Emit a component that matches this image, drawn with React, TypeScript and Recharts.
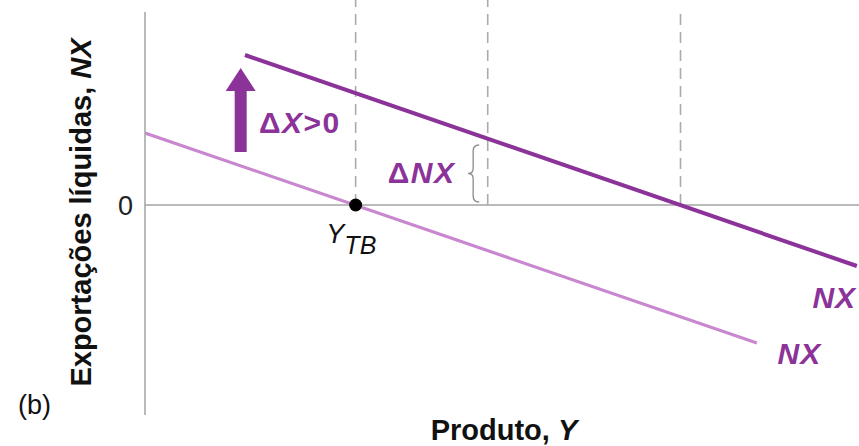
import React from 'react';
import { ComposedChart, Line, XAxis, YAxis, ReferenceLine, ReferenceDot, Label } from 'recharts';

const DARK = '#8b3399';
const LIGHT = '#c887cf';
const GRAY = '#a3a3a3';
const FONT = '"Liberation Sans", Arial, Helvetica, sans-serif';

// x = output Y (0..100), nx = net exports (pixel-like units, 0 = balance)
const nxInitial = [
  { y: 0, nx: 72 },
  { y: 85.7, nx: -138 },
];
const nxShifted = [
  { y: 14, nx: 150 },
  { y: 99.7, nx: -61 },
];
const yTB = 29.5;
const dashedX = [29.5, 48, 75];
const dashedTop = [205, 205, 197];
const arrowX = 13.4;
const arrowFrom = 53;
const arrowTo = 137;
const braceX = 46.1;
const braceTop = 60;
const braceBottom = 3;
const yTicks = [0];

const ArrowShape = (p: any) => {
  const x = p.x1;
  const bottom = Math.max(p.y1, p.y2);
  const tip = Math.min(p.y1, p.y2);
  const headLen = 23;
  const headW = 15;
  const shaftW = 6;
  const pts = [
    [x - shaftW, bottom],
    [x - shaftW, tip + headLen],
    [x - headW, tip + headLen],
    [x, tip],
    [x + headW, tip + headLen],
    [x + shaftW, tip + headLen],
    [x + shaftW, bottom],
  ];
  return <polygon points={pts.map((q) => q.join(',')).join(' ')} fill={DARK} />;
};

const BraceShape = (p: any) => {
  const x = p.x1;
  const t = Math.min(p.y1, p.y2);
  const b = Math.max(p.y1, p.y2);
  const m = (t + b) / 2;
  const r = x + 5;
  const c = x - 1;
  const l = x - 6;
  const d = `M ${r} ${t} Q ${c} ${t} ${c} ${t + 6} L ${c} ${m - 5} Q ${c} ${m} ${l} ${m} Q ${c} ${m} ${c} ${m + 5} L ${c} ${b - 6} Q ${c} ${b} ${r} ${b}`;
  return <path d={d} fill="none" stroke="#8a8a8a" strokeWidth={1.3} />;
};

const DxLabel = (p: any) => (
  <text x={p.cx} y={p.cy} fontFamily={FONT} fontSize={30} fontWeight="bold" fill={DARK} letterSpacing={1.5}>
    Δ<tspan fontStyle="italic">X</tspan>&gt;0
  </text>
);

const DnxLabel = (p: any) => (
  <text x={p.cx} y={p.cy} fontFamily={FONT} fontSize={30} fontWeight="bold" fill={DARK} letterSpacing={1.5}>
    Δ<tspan fontStyle="italic">NX</tspan>
  </text>
);

const YtbLabel = (p: any) => (
  <text x={p.cx} y={p.cy} fontFamily={FONT} fontSize={27} fontStyle="italic" fill="#111">
    Y<tspan fontSize={25} dy={11}>TB</tspan>
  </text>
);

const NxLabel = (p: any) => (
  <text x={p.cx} y={p.cy} fontFamily={FONT} fontSize={30} fontWeight="bold" fontStyle="italic" fill={DARK} textAnchor="end" letterSpacing={1}>
    NX
  </text>
);

const YLabel = (props: any) => {
  const vb = props.viewBox;
  const cy = vb.y + vb.height / 2 - 1;
  return (
    <g>
      <text
        transform={`translate(${vb.x + 91}, ${cy}) rotate(-90)`}
        textAnchor="middle"
        fontFamily={FONT}
        fontSize={29}
        fontWeight="bold"
        fill="#111"
      >
        Exportações líquidas, <tspan fontStyle="italic">NX</tspan>
      </text>
      <text x={vb.x + 18} y={vb.y + vb.height - 1} fontFamily={FONT} fontSize={27} fill="#111">
        (b)
      </text>
    </g>
  );
};

const XLabel = (props: any) => {
  const vb = props.viewBox;
  return (
    <text
      x={vb.x + vb.width / 2 + 2}
      y={vb.y + 25}
      textAnchor="middle"
      fontFamily={FONT}
      fontSize={29}
      fontWeight="bold"
      fill="#111"
    >
      Produto, <tspan fontStyle="italic">Y</tspan>
    </text>
  );
};

export default function App() {
  return (
    <div style={{ position: 'absolute', left: 0, top: 0, width: 859, height: 446, background: '#fff' }}>
      <ComposedChart width={859} height={446} margin={{ top: 12, right: 0, bottom: 0, left: 0 }}>
        <XAxis
          type="number"
          dataKey="y"
          domain={[0, 100]}
          allowDataOverflow
          axisLine={false}
          tickLine={false}
          tick={false}
          height={31}
        >
          <Label content={XLabel} />
        </XAxis>
        <YAxis
          type="number"
          domain={[-210, 193]}
          allowDataOverflow
          ticks={yTicks}
          width={145}
          axisLine={{ stroke: GRAY, strokeWidth: 1.5 }}
          tickLine={false}
          tickMargin={6}
          tick={{ fontSize: 27, fill: '#222', fontFamily: FONT }}
        >
          <Label content={YLabel} />
        </YAxis>
        <ReferenceLine y={0} stroke={GRAY} strokeWidth={1.5} />
        {dashedX.map((x, i) => (
          <ReferenceLine
            key={i}
            segment={[
              { x, y: 0 },
              { x, y: dashedTop[i] },
            ]}
            stroke="#ababab"
            strokeWidth={1.6}
            strokeDasharray="11 7"
            ifOverflow="visible"
          />
        ))}
        <Line data={nxInitial} dataKey="nx" type="linear" stroke={LIGHT} strokeWidth={3.2} dot={false} isAnimationActive={false} />
        <Line data={nxShifted} dataKey="nx" type="linear" stroke={DARK} strokeWidth={4} dot={false} isAnimationActive={false} />
        <ReferenceLine
          segment={[
            { x: arrowX, y: arrowFrom },
            { x: arrowX, y: arrowTo },
          ]}
          shape={ArrowShape}
          ifOverflow="visible"
        />
        <ReferenceLine
          segment={[
            { x: braceX, y: braceTop },
            { x: braceX, y: braceBottom },
          ]}
          shape={BraceShape}
          ifOverflow="visible"
        />
        <ReferenceDot x={yTB} y={0} r={6.5} fill="#000" stroke="none" />
        <ReferenceDot x={15.97} y={72} r={1} shape={DxLabel} ifOverflow="visible" />
        <ReferenceDot x={34} y={22} r={1} shape={DnxLabel} ifOverflow="visible" />
        <ReferenceDot x={25.4} y={-38} r={1} shape={YtbLabel} ifOverflow="visible" />
        <ReferenceDot x={99.6} y={-103} r={1} shape={NxLabel} ifOverflow="visible" />
        <ReferenceDot x={94.7} y={-159} r={1} shape={NxLabel} ifOverflow="visible" />
      </ComposedChart>
    </div>
  );
}
